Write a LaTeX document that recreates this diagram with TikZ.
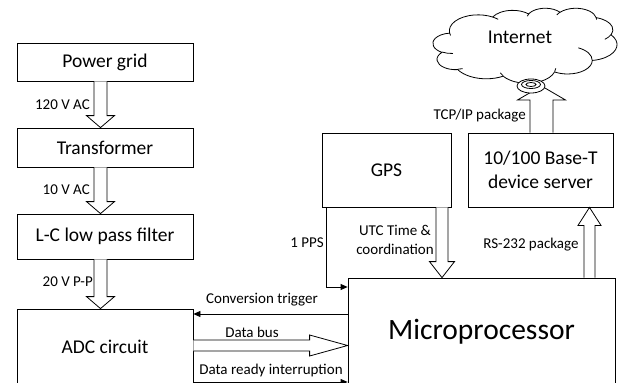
\documentclass[tikz,border=0pt]{standalone}
\usepackage{fontspec}
\setmainfont{Carlito}
\usetikzlibrary{calc,arrows.meta}
\tikzset{
  box/.style={draw, line width=0.8pt, inner sep=0pt, align=center, font=\fontsize{19.5}{24}\selectfont},
  lbl/.style={inner sep=0pt, align=center, font=\fontsize{15}{19.5}\selectfont},
  blk/.style={draw, line width=0.8pt, fill=white, line join=miter},
  sig/.style={draw, line width=0.8pt, -{Triangle[length=7pt,width=6pt]}},
  cloudline/.style={draw, line width=0.8pt, line join=round},
}
% #1 start, #2 end, #3 half shaft width, #4 half head width, #5 head length (all pt)
\newcommand\blkarrow[5]{%
  \coordinate (ba-s) at (#1);
  \coordinate (ba-e) at (#2);
  \coordinate (ba-b) at ($(ba-e)!#5pt!(ba-s)$);
  \draw[blk] ($(ba-s)!#3pt!90:(ba-e)$) -- ($(ba-b)!#3pt!-90:(ba-s)$) -- ($(ba-b)!#4pt!-90:(ba-s)$)
    -- (ba-e) -- ($(ba-b)!#4pt!90:(ba-s)$) -- ($(ba-b)!#3pt!90:(ba-s)$) -- ($(ba-s)!#3pt!-90:(ba-e)$);
}
% elliptic arc given by radii, visual start angle and sweep (degrees)
\newcommand\ooarc[4]{arc[x radius=#1, y radius=#2,
  start angle={atan2(#1*sin(#3),#2*cos(#3))},
  delta angle={mod(atan2(#1*sin(#3+#4),#2*cos(#3+#4))-atan2(#1*sin(#3),#2*cos(#3))+720,360)}]}
\begin{document}
\begin{tikzpicture}[x=1pt,y=-1pt]
\useasboundingbox (0,0) rectangle (622,383);

% boxes
\node[box, minimum width=176, minimum height=38] (pg) at (105,62) {Power grid};
\node[box, minimum width=176, minimum height=39] (tr) at (105,147.5) {Transformer};
\node[box, minimum width=176, minimum height=45] (lc) at (105,236.5) {L-C low pass filter};
\node[box, minimum width=176, minimum height=75] (adc) at (105,346.5) {ADC circuit};
\node[box, minimum width=129, minimum height=74] (gps) at (386.5,170) {GPS};
\node[box, minimum width=145, minimum height=74] (ds) at (540.5,170) {10/100 Base-T\\device server};
\node[box, minimum width=267, minimum height=108, font=\fontsize{29.5}{34}\selectfont] (mp) at (481.5,332) {Microprocessor};

% cloud
\begin{scope}[shift={(433pt,-8pt)}, x=0.0425926pt, y=-0.0173611pt]
\draw[cloudline] (390,1437)
  \ooarc{675.3}{919.0}{-190.4875}{123.7805}
  \ooarc{533.3}{726.7}{-144.10238}{89.94523}
  \ooarc{436.5}{594.5}{-145.80792}{99.72302}
  \ooarc{485.7}{659.5}{-130.98607}{117.24173}
  \ooarc{533.3}{727.3}{-78.70888}{109.02692}
  \ooarc{677.5}{922.0}{-46.26725}{130.269}
  \ooarc{578.5}{786.7}{0.62502}{114.03333}
  \ooarc{675.2}{921.5}{22.4516}{115.17255}
  \ooarc{772.0}{1054.3}{66.24263}{75.71102}
  \ooarc{436.0}{591.8}{-274.94208}{146.73557}
  \ooarc{434.5}{594.5}{-246.8285}{152.51885}
  -- cycle;
\draw[cloudline]
  (469.3,2617.7) \ooarc{434.5}{594.5}{86.742}{26.4295}
  (692.8,3489.9) \ooarc{436.0}{591.8}{73.61047}{11.44747}
  (1647.8,3909.0) \ooarc{675.2}{921.5}{137.62415}{14.0811}
  (2882.7,3475.1) \ooarc{675.2}{921.5}{6.4533}{15.99835}
  (3412.9,2295.4) \ooarc{578.5}{786.7}{-70.29235}{70.91737}
  (4179.8,1535.4) \ooarc{533.3}{727.3}{30.31803}{27.7515}
  (3832.4,542.6) \ooarc{485.7}{659.5}{-13.74433}{14.8589}
  (2907.8,395.2) \ooarc{485.7}{659.5}{-149.18145}{18.19537}
  (2214.1,472.0) \ooarc{436.5}{594.5}{-163.49427}{17.68635}
  (1400.0,519.2) \ooarc{675.3}{919.0}{-66.70695}{12.31935}
  (412.7,1578.9) \ooarc{675.3}{919.0}{157.65435}{11.85817};
\end{scope}
\node[lbl, font=\fontsize{19.5}{24}\selectfont] (nettxt) at (520,37) {Internet};
\coordinate (plug) at (531,86);

% block arrows
\blkarrow{$(pg.south)+(-4.5,0)$}{$(tr.north)+(-4.5,0)$}{6.5}{14}{12}
\blkarrow{$(tr.south)+(-4.5,0)$}{$(lc.north)+(-4.5,0)$}{6.5}{14}{12}
\blkarrow{$(lc.south)+(-4.5,0)$}{$(adc.north)+(-4.5,0)$}{6.5}{14}{12}
\blkarrow{$(gps.south)+(55.5,0)$}{$(mp.north)+(-39.5,0)$}{6}{12.5}{16}
\blkarrow{$(mp.north)+(108,0)$}{$(ds.south)+(49,0)$}{5.5}{11.5}{18}
\blkarrow{$(ds.north)+(1,0)$}{$(plug)+(10.5,0)$}{11.5}{24}{14}
\blkarrow{$(adc.east)+(0,-1)$}{$(mp.west)+(0,13.5)$}{5.5}{10.5}{38}

% connector icon
\draw[line width=0.8pt, fill=white] (plug) ellipse [x radius=14, y radius=7];
\draw[line width=0.8pt] ($(plug)+(0,-1.5)$) ellipse [x radius=9.5, y radius=4];
\draw[line width=0.8pt] ($(plug)+(0,-1.5)$) ellipse [x radius=5, y radius=2];

% signal lines
\draw[sig] ($(mp.west)+(0,-18)$) coordinate (ct) -- (adc.east |- ct);
\coordinate (dr) at ($(adc.east)+(0,35.5)$);
\draw[sig] (dr) -- (mp.west |- dr);
\draw[sig] ($(gps.south)+(-60.5,0)$) coordinate (pp) |- ($(mp.west)+(0,-45)$);

% labels
\node[lbl, anchor=east] (l1) at (90,105) {120 V AC};
\node[lbl, anchor=east] (l2) at (90,190) {10 V AC};
\node[lbl, anchor=east] (l3) at (93,282) {20 V P-P};
\node[lbl] (l4) at (262,300) {Conversion trigger};
\node[lbl] (l5) at (252,332) {Data bus};
\node[lbl] (l6) at (271,370) {Data ready interruption};
\node[lbl, anchor=east] (l7) at (324,243) {1 PPS};
\node[lbl] (l8) at (395,240) {UTC Time \&\\coordination};
\node[lbl] (l9) at (531,245) {RS-232 package};
\node[lbl, anchor=east] (l10) at (526,116) {TCP/IP package};
\end{tikzpicture}
\end{document}
